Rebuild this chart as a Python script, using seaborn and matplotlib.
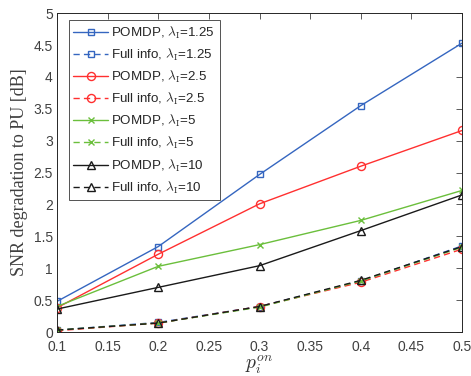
import numpy as np
import pandas as pd
import matplotlib
matplotlib.use("Agg")
import matplotlib.pyplot as plt
import seaborn as sns

sns.set_style("white")
plt.rcParams['font.family'] = ['Liberation Sans', 'DejaVu Sans']
plt.rcParams['mathtext.fontset'] = 'cm'

# data
p_on = [0.1, 0.2, 0.3, 0.4, 0.5]
lambdas = ["1.25", "2.5", "5", "10"]

pomdp_125 = [0.48, 1.34, 2.47, 3.55, 4.53]
pomdp_25 = [0.38, 1.22, 2.01, 2.60, 3.16]
pomdp_5 = [0.40, 1.03, 1.37, 1.75, 2.22]
pomdp_10 = [0.36, 0.70, 1.04, 1.59, 2.15]

full_125 = [0.03, 0.15, 0.40, 0.80, 1.35]
full_25 = [0.02, 0.14, 0.40, 0.78, 1.30]
full_5 = [0.03, 0.14, 0.39, 0.80, 1.33]
full_10 = [0.03, 0.14, 0.40, 0.81, 1.34]

colors = ["#3566c0", "#ff3030", "#6bbf3c", "#1a1a1a"]
markers = ["s", "o", "x", "^"]
msizes = [5, 5.8, 4, 6.2]

pomdp = [pomdp_125, pomdp_25, pomdp_5, pomdp_10]
full = [full_125, full_25, full_5, full_10]

fig, ax = plt.subplots(figsize=(4.71, 3.76), dpi=100)
fig.subplots_adjust(left=0.121, right=0.981, top=0.965, bottom=0.117)

for lam, pv, fv, c, m, ms in zip(lambdas, pomdp, full, colors, markers, msizes):
    for vals, ls, name in [(pv, "-", "POMDP"), (fv, (0, (4.5, 3)), "Full info")]:
        df = pd.DataFrame({"p": p_on, "snr": vals})
        sns.lineplot(data=df, x="p", y="snr", ax=ax, color=c, linestyle=ls,
                     marker=m, markersize=ms, markerfacecolor="none",
                     markeredgecolor=c, markeredgewidth=1.0, linewidth=1.0,
                     label=f"{name}, $\\lambda_\\mathrm{{I}}$=" + lam)

ax.set_xlim(0.1, 0.5)
ax.set_ylim(0, 5)
ax.set_xticks(np.arange(0.1, 0.51, 0.05))
ax.set_xticklabels(["0.1", "0.15", "0.2", "0.25", "0.3", "0.35", "0.4", "0.45", "0.5"])
ax.set_yticks(np.arange(0, 5.01, 0.5))
ax.set_yticklabels(["0", "0.5", "1", "1.5", "2", "2.5", "3", "3.5", "4", "4.5", "5"])
ax.tick_params(direction="in", length=4, width=0.6, top=True, right=True,
               labelsize=10, colors="#404040", pad=3)
ax.tick_params(axis="x", pad=6)
for sp in ax.spines.values():
    sp.set_color("#262626")
    sp.set_linewidth(0.7)

ax.set_xlabel("$p_i^{on}$", fontsize=14, labelpad=-1, color="#333333")
ax.set_ylabel("SNR degradation to PU [dB]", fontsize=13, family="Liberation Serif",
              color="#404040", labelpad=4)

leg = ax.legend(loc="upper left", bbox_to_anchor=(0.012, 1.0), fontsize=9.6,
                frameon=True, fancybox=False, edgecolor="#262626",
                handlelength=2.6, handletextpad=0.25, labelspacing=0.44,
                borderpad=0.35, borderaxespad=0.5)
leg.get_frame().set_linewidth(0.7)
for t in leg.get_texts():
    t.set_color("#262626")

fig.savefig("out.png", dpi=100)
